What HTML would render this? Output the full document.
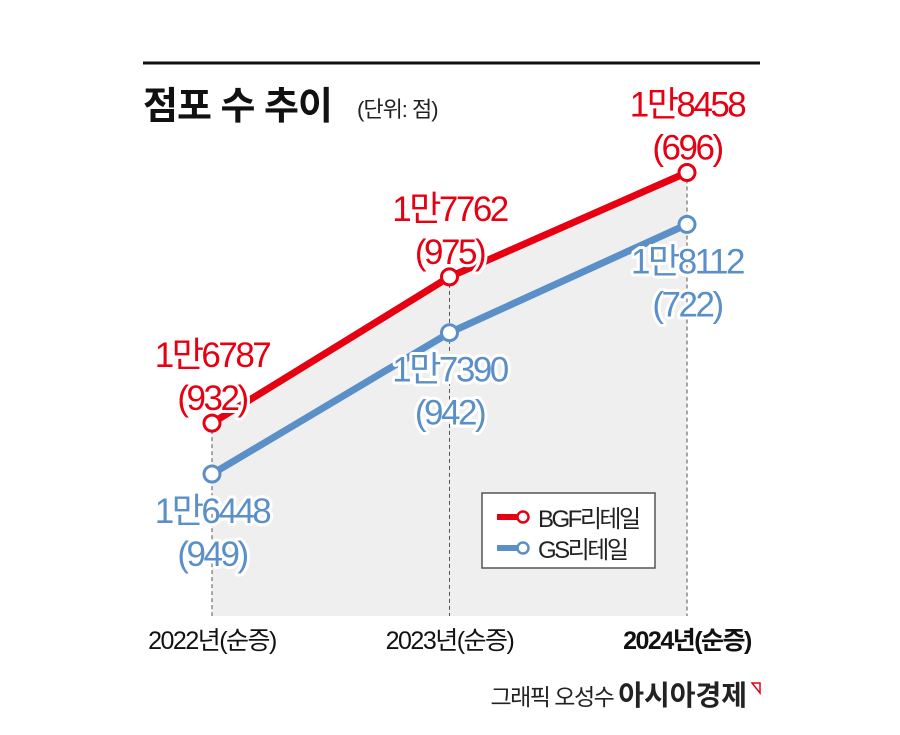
<!DOCTYPE html>
<html><head><meta charset="utf-8">
<style>
html,body{margin:0;padding:0;background:#fff;}
svg{display:block;font-family:"Liberation Sans","Noto Sans CJK KR",sans-serif;}
.lbl{font-size:35px;letter-spacing:-2.5px;paint-order:stroke;stroke:#fff;stroke-width:6px;stroke-linejoin:round;text-anchor:middle;}
</style></head>
<body>
<svg id="chart" width="900" height="735" viewBox="0 0 900 735">
<line x1="143" y1="63" x2="760" y2="63" stroke="#111" stroke-width="3"/>
<text x="143" y="119" font-size="38" font-weight="bold" fill="#111" letter-spacing="-1">점포 수 추이</text>
<text x="357" y="117" font-size="22" fill="#222" letter-spacing="-1">(단위: 점)</text>
<g id="plot"></g>
<g>
<rect x="482" y="493" width="173" height="75" fill="#fff" stroke="#555" stroke-width="1.5"/>
<line x1="497" y1="517" x2="518" y2="517" stroke="#e60012" stroke-width="6"/>
<circle cx="523" cy="517" r="5.5" fill="#fff" stroke="#e60012" stroke-width="2.5"/>
<text x="538" y="527" font-size="24" letter-spacing="-2.5" fill="#222">BGF리테일</text>
<line x1="497" y1="548" x2="518" y2="548" stroke="#5a8fc7" stroke-width="6"/>
<circle cx="523" cy="548" r="5.5" fill="#fff" stroke="#5a8fc7" stroke-width="2.5"/>
<text x="538" y="558" font-size="24" letter-spacing="-2.5" fill="#222">GS리테일</text>
</g>
<text x="747" y="705" font-size="23" fill="#222" text-anchor="end"><tspan letter-spacing="-1.5">그래픽 오성수 </tspan><tspan font-weight="bold" font-size="28">아시아경제</tspan></text>
<path d="M752 683 L760 683 L760 693 Z" fill="none" stroke="#e60012" stroke-width="1.5"/>
</svg>
<script>
const years = ["2022년(순증)","2023년(순증)","2024년(순증)"];
const bgfValues = [16787,17762,18458];
const bgfNet = [932,975,696];
const gsValues = [16448,17390,18112];
const gsNet = [949,942,722];
const bgfLabels = ["1만6787","1만7762","1만8458"];
const gsLabels = ["1만6448","1만7390","1만8112"];

const NS="http://www.w3.org/2000/svg";
const g=document.getElementById('plot');
function xScale(i){return 212+i*237.5;}
function yScale(v){return 474-(v-16448)*0.15;}
function mk(tag,attrs){const e=document.createElementNS(NS,tag);for(const k in attrs)e.setAttribute(k,attrs[k]);g.appendChild(e);return e;}
const base=616;
let d=`M${xScale(0)} ${base}`;
bgfValues.forEach((v,i)=>{d+=` L${xScale(i)} ${yScale(v)}`;});
d+=` L${xScale(bgfValues.length-1)} ${base} Z`;
const area=mk('path',{d:d,fill:'#efefef'});


years.forEach((y,i)=>{
  const l=mk('line',{x1:xScale(i),x2:xScale(i),y1:Math.min(yScale(bgfValues[i]),yScale(gsValues[i])),y2:base,stroke:'#555','stroke-width':1,'stroke-dasharray':'4,3'});
  
  
  const t=mk('text',{x:xScale(i),y:649,'font-size':25,'text-anchor':'middle',fill:'#111','letter-spacing':'-1.5','font-weight':i===2?'bold':'normal'});
  t.textContent=y;
  
  
});
function series(vals,color,name){
  const p=mk('polyline',{points:vals.map((v,i)=>xScale(i)+','+yScale(v)).join(' '),fill:'none',stroke:color,'stroke-width':7,'stroke-linejoin':'round'});
  
  
}
series(gsValues,'#5a8fc7','gs');
series(bgfValues,'#e60012','bgf');
function points(vals,color,name){
  vals.forEach((v,i)=>{
    const c=mk('circle',{cx:xScale(i),cy:yScale(v),r:8,fill:'#fff',stroke:color,'stroke-width':3});
    
    
  });
}
points(gsValues,'#5a8fc7','gs');
points(bgfValues,'#e60012','bgf');
function labels(vals,labs,net,color,name,dy){
  vals.forEach((v,i)=>{
    const x=xScale(i), y=yScale(v)+dy;
    const t1=mk('text',{x:x,y:y,fill:color,class:'lbl'});
    t1.textContent=labs[i];
    
    
    const t2=mk('text',{x:x,y:y+43,fill:color,class:'lbl'});
    t2.textContent='('+net[i]+')';
    
    
  });
}
labels(bgfValues,bgfLabels,bgfNet,'#e60012','bgf',-56);
labels(gsValues,gsLabels,gsNet,'#5a8fc7','gs',49);
</script>
</body></html>
